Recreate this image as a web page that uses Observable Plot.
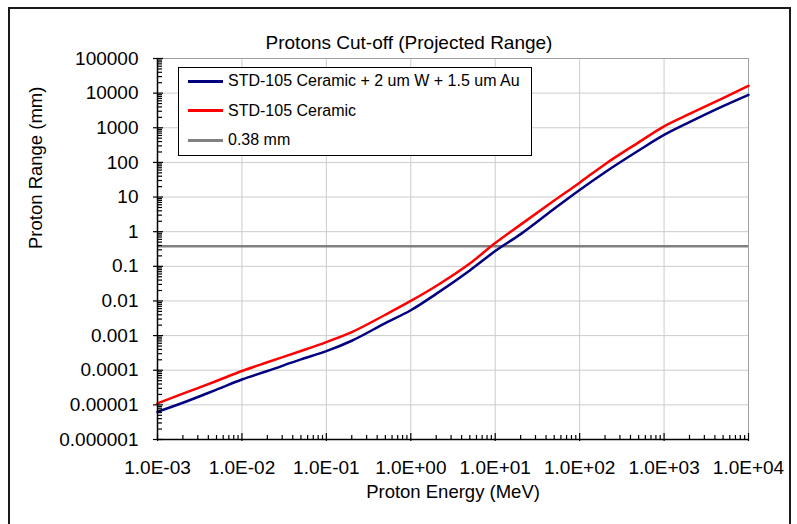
<!DOCTYPE html>
<html>
<head>
<meta charset="utf-8">
<script src="https://cdn.jsdelivr.net/npm/d3@7"></script>
<script src="https://cdn.jsdelivr.net/npm/@observablehq/plot@0.6"></script>
<style>
  html, body { margin: 0; padding: 0; background: #fff; }
  #wrap { position: relative; width: 797px; height: 524px; overflow: hidden;
          font-family: "Liberation Sans", Arial, sans-serif; color: #000; }
  #wrap svg { position: absolute; left: 0; top: 0; }
  #border { position: absolute; left: 8px; top: 7px; width: 783px; height: 600px;
            border: 2px solid #1a1a1a; box-sizing: border-box; pointer-events: none; }
  #legend { position: absolute; left: 178px; top: 67px; width: 354px; height: 89px;
            border: 1px solid #000; background: #fff; box-sizing: border-box; }
  .row { position: absolute; left: 0; height: 20px; display: flex; align-items: center; }
  .swatch { width: 35px; height: 3px; margin-left: 9px; margin-right: 5px; }
  .label { font-size: 16px; line-height: 20px; white-space: nowrap; }
</style>
</head>
<body>
<div id="wrap">
  <div id="border"></div>
  <div id="legend"></div>
</div>
<script>
// Proton energy (MeV) at which the projected range was sampled
const energy = [0.001, 0.002, 0.005, 0.01, 0.02, 0.05, 0.1, 0.2, 0.5, 1, 2, 5,
                10, 20, 50, 100, 200, 500, 1000, 2000, 5000, 10000];

// Projected range (mm), ceramic with 2 um W + 1.5 um Au
const rangeCoated = [6.3e-6, 1.15e-5, 2.75e-5, 5.4e-5, 9.5e-5, 2.05e-4, 3.55e-4, 7.1e-4,
                     2.3e-3, 5.4e-3, 0.016, 0.076, 0.275, 0.85, 4.6, 16, 52, 220,
                     620, 1450, 4200, 8900];

// Projected range (mm), bare STD-105 ceramic
const rangeCeramic = [1.1e-5, 2.1e-5, 4.9e-5, 9.5e-5, 1.7e-4, 3.6e-4, 6.5e-4, 1.26e-3,
                      4.0e-3, 0.0100, 0.027, 0.12, 0.47, 1.6, 7.9, 26, 89, 380,
                      1100, 2500, 7200, 16200];

// Cut-off thickness (mm)
const cutoff = 0.38;

const seriesNames = ["STD-105 Ceramic + 2 um W + 1.5 um Au", "STD-105 Ceramic", "0.38 mm"];
const seriesColors = ["#000080", "#ff0000", "#808080"];

const xTicks = [1e-3, 1e-2, 1e-1, 1e0, 1e1, 1e2, 1e3, 1e4];
const xTickLabels = ["1.0E-03", "1.0E-02", "1.0E-01", "1.0E+00", "1.0E+01", "1.0E+02", "1.0E+03", "1.0E+04"];
const yTicks = [1e-6, 1e-5, 1e-4, 1e-3, 1e-2, 1e-1, 1e0, 1e1, 1e2, 1e3, 1e4, 1e5];
const yTickLabels = ["0.000001", "0.00001", "0.0001", "0.001", "0.01", "0.1", "1", "10",
                     "100", "1000", "10000", "100000"];

const titleText = "Protons Cut-off (Projected Range)";
const xTitle = "Proton Energy (MeV)";
const yTitle = "Proton Range (mm)";

// Long-format table for the two range curves
const rows = energy.flatMap((e, i) => [
  {series: seriesNames[0], energy: e, range: rangeCoated[i]},
  {series: seriesNames[1], energy: e, range: rangeCeramic[i]}
]);

const xLabel = new Map(xTicks.map((t, i) => [t, xTickLabels[i]]));
const yLabel = new Map(yTicks.map((t, i) => [t, yTickLabels[i]]));

// Minor ticks at 2..9 within each decade
const minorTicks = (lo, hi) => d3.range(lo, hi).flatMap(k => d3.range(2, 10).map(m => m * Math.pow(10, k)));
const xMinor = minorTicks(-3, 4);
const yMinor = minorTicks(-6, 5);

const width = 797, height = 524;
const margin = {left: 157, right: 49, top: 58, bottom: 85};
const frameW = width - margin.left - margin.right;
const frameH = height - margin.top - margin.bottom;

// Short tick strokes along the axes: `outer` px outside the frame, `inner` px inside
const yTickMarks = (data, outer, inner) => Plot.ruleY(data, {
  insetLeft: -outer, insetRight: frameW - inner, stroke: "#000", strokeWidth: 1.2
});
const xTickMarks = (data, outer, inner) => Plot.ruleX(data, {
  insetBottom: -outer, insetTop: frameH - inner, stroke: "#000", strokeWidth: 1.2
});

const chart = Plot.plot({
  width, height,
  marginLeft: margin.left,
  marginRight: margin.right,
  marginTop: margin.top,
  marginBottom: margin.bottom,
  style: {fontFamily: "'Liberation Sans', Arial, sans-serif", fontSize: "19px", color: "#000", background: "transparent"},
  x: {type: "log", domain: [1e-3, 1e4], label: null},
  y: {type: "log", domain: [1e-6, 1e5], label: null},
  color: {domain: seriesNames, range: seriesColors},
  marks: [
    Plot.gridX(xTicks, {stroke: "#cccccc", strokeOpacity: 1, strokeWidth: 1}),
    Plot.gridY(yTicks, {stroke: "#cccccc", strokeOpacity: 1, strokeWidth: 1}),
    Plot.frame({stroke: "#a0a0a0", strokeWidth: 1}),
    Plot.ruleY([cutoff], {stroke: seriesColors[2], strokeWidth: 2.5}),
    Plot.line(rows, {x: "energy", y: "range", z: "series", stroke: "series", strokeWidth: 2.5, curve: "monotone-x"}),
    Plot.ruleX([xTicks[0]], {stroke: "#000", strokeWidth: 1.5}),
    Plot.ruleY([yTicks[0]], {stroke: "#000", strokeWidth: 1.5}),
    // axis tick marks: major cross the axis line, minor point inward
    yTickMarks(yTicks, 4, 6),
    yTickMarks(yMinor, 0, 5),
    xTickMarks(xTicks, 2, 6),
    xTickMarks(xMinor, 0, 4),
    // tick labels
    Plot.axisY(yTicks, {tickSize: 0, tickPadding: 19, tickFormat: d => yLabel.get(d), label: null}),
    Plot.axisX(xTicks, {tickSize: 0, tickPadding: 21, tickFormat: d => xLabel.get(d), label: null}),
    // titles
    Plot.text([titleText], {text: d => d, frameAnchor: "top", dy: -23, dx: -44, fontSize: 19}),
    Plot.text([xTitle], {text: d => d, frameAnchor: "bottom", dy: 58, fontSize: 18.5}),
    Plot.text([yTitle], {text: d => d, frameAnchor: "left", dx: -121, rotate: -90, fontSize: 18.5})
  ]
});

const wrap = document.getElementById("wrap");
wrap.insertBefore(chart, wrap.firstChild);

// Legend box: one row per series
const legend = document.getElementById("legend");
seriesNames.forEach((name, i) => {
  const row = document.createElement("div");
  row.className = "row";
  row.style.top = (3 + i * 29.5) + "px";
  const sw = document.createElement("div");
  sw.className = "swatch";
  sw.style.background = seriesColors[i];
  const lb = document.createElement("span");
  lb.className = "label";
  lb.textContent = name;
  row.appendChild(sw);
  row.appendChild(lb);
  legend.appendChild(row);
});
</script>
</body>
</html>
